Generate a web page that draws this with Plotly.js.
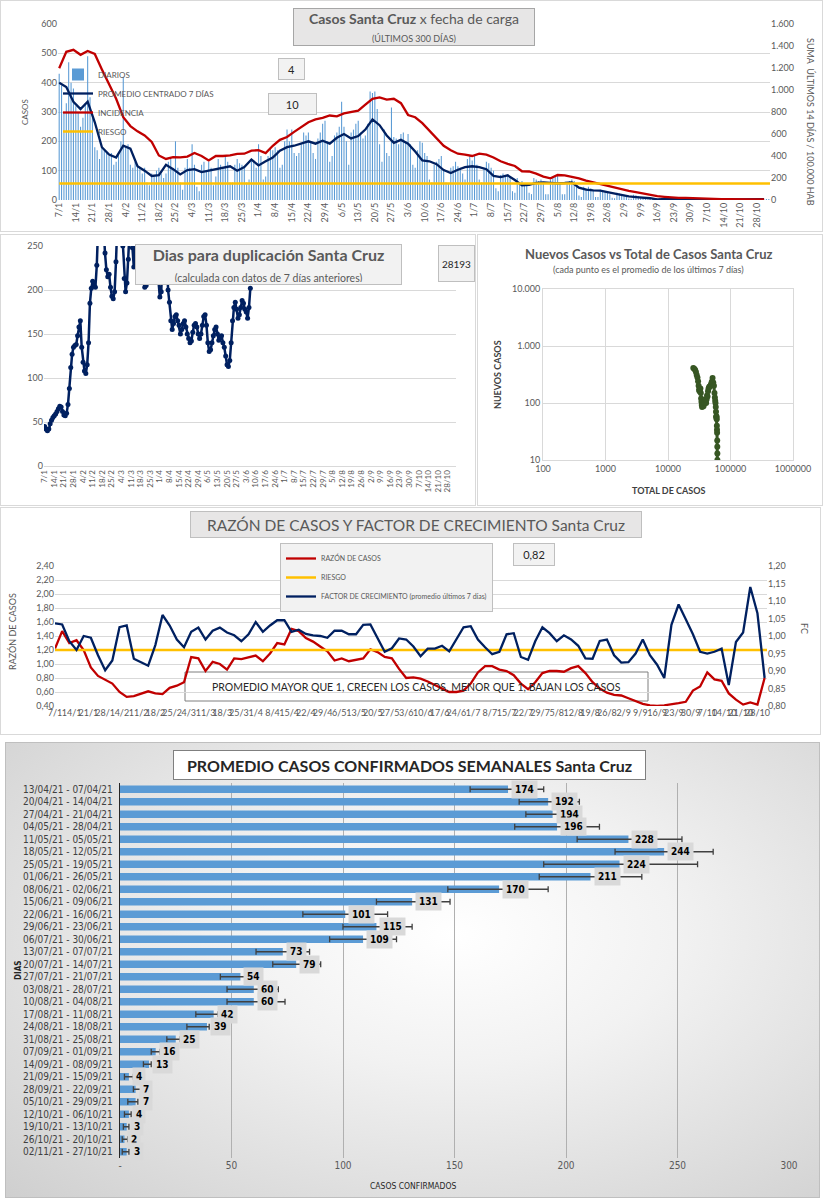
<!DOCTYPE html>
<html><head><meta charset="utf-8">
<script src="https://cdn.plot.ly/plotly-3.0.1.min.js"></script>
<style>
body{margin:0;width:823px;height:1200px;background:#fff;position:relative;overflow:hidden;font-family:Lato,sans-serif}
.frame{position:absolute;box-sizing:border-box;border:1px solid #d9d9d9}
.plot{position:absolute}
</style></head>
<body>
<div class="frame" style="left:0;top:0;width:823px;height:232px"></div>
<div class="frame" style="left:0;top:234px;width:476px;height:272px"></div>
<div class="frame" style="left:477px;top:234px;width:346px;height:272px"></div>
<div class="frame" style="left:0;top:507px;width:821px;height:228px"></div>
<div class="frame" style="left:5px;top:742px;width:815px;height:456px;border-color:#bfbfbf;background:radial-gradient(ellipse at 55% 42%,#ffffff 0%,#f2f2f2 35%,#cfcfcf 100%)"></div>
<div id="p1" class="plot" style="left:0;top:0"></div>
<div id="p2" class="plot" style="left:0;top:234px"></div>
<div id="p3" class="plot" style="left:477px;top:234px"></div>
<div id="p4" class="plot" style="left:0;top:507px"></div>
<div id="p5" class="plot" style="left:5px;top:742px"></div>
<script>
// ---------------- DATA ----------------
// Panel 1: daily cases from 7/1/2021 (300 days)
const diarios = [
430,390,300,330,470,400,380, 320,300,250,280,330,490,350, 300,180,170,140,180,170,160,
150,160,120,130,160,200,420, 180,190,120,110,130,120,110, 90,110,60,50,90,80,100,
110,90,75,90,130,140,110, 200,110,60,35,110,140,110, 190,120,45,30,120,130,100,
130,110,50,80,140,120,110, 150,130,60,60,120,140,125, 120,110,60,70,140,130,110,
190,150,70,80,150,180,170, 180,170,110,120,200,240,200, 240,160,150,160,190,230,220,
230,200,160,140,210,230,260, 270,200,130,150,220,230,250, 335,250,200,120,230,240,260,
270,230,210,220,260,370,365, 370,310,190,130,240,160,150, 315,215,210,190,225,230,200,
225,190,120,110,170,200,195, 160,150,70,60,120,130,140, 150,100,60,55,110,115,130,
115,110,90,70,140,150,135, 150,120,70,60,110,130,125, 110,100,40,30,85,90,85,
85,80,30,25,75,60,65, 55,50,25,20,75,70,65, 70,60,20,20,70,75,85,
85,60,20,20,60,65,70, 65,50,15,10,45,40,45, 40,35,10,10,35,30,30,
25,20,8,6,25,22,20, 18,15,5,4,18,16,14, 10,8,3,2,6,5,4,
4,5,2,1,5,7,8, 8,7,3,2,8,7,6, 6,5,2,1,5,4,4,
4,3,1,1,3,3,3, 3,2,1,1,2,2,3, 3,2,1,1,3,2,3, 3,3,2,1,3,3];
// 7-day centred average, every 3 days from 7/1
const promedio = [400,385,335,310,335,265,180,155,145,185,175,115,100,82,85,120,105,87,102,105,
95,100,105,112,115,100,112,138,118,132,145,168,180,185,193,200,192,202,192,212,
225,210,218,240,275,255,220,195,205,192,165,135,132,122,102,92,103,112,115,112,
105,82,78,84,68,50,52,58,60,58,57,58,60,42,35,33,32,27,22,17,
12,10,9,6,2,4,5,4,4,3,2,1,2,3,3,2,2,3,3,3];
// 14-day incidence per 100.000 (right axis), every 3 days
const incidencia = [1197,1347,1365,1320,1355,1328,1187,1053,920,752,672,624,587,528,405,373,389,387,395,427,
400,360,400,400,405,419,421,448,453,427,493,547,573,619,661,707,733,747,768,760,
787,800,813,867,920,933,912,920,880,773,752,699,627,565,493,453,421,413,400,421,
413,387,352,328,309,261,259,240,213,197,227,224,213,197,176,160,149,133,112,96,
83,72,59,45,35,29,21,19,19,16,13,13,11,8,8,5,5,5,5,5];
const riesgoIncidencia = 150;
// Panel 2: doubling days, daily from 7/1
const duplicacion = [45,42,40,42,48,52,55,57,59,62, 65,68,67,62,58,57,60,70,88,112,
127,135,137,138,148,158,165,135,118,108, 105,115,140,185,202,210,205,203,228,270,
320,300,280,270,242,223,215,218,203,193, 190,198,232,290,320,310,280,250,213,198,
208,235,260,300,248,226,270,290,300,280, 260,230,210,203,205,220,240,260,280,300,
270,240,225,210,192,198,230,270,260,240, 200,186,165,155,162,170,172,165,160,150,
155,162,165,158,150,145,140,142,152,160, 162,158,150,145,150,160,170,172,160,140,
130,132,140,148,155,158,150,143,146,148, 140,135,125,115,113,120,140,165,180,186,
178,168,172,180,188,185,178,175,168,180, 202];
// Panel 3: total vs new cases (7-day avg)
const totalCasos = [25400,26300,27200,28000,28800,29600,30300,30900,31400,31900,32500,33000,33500,33900,34300,34700,35100,35500,36000,36500,
37000,37600,38200,38800,39400,40000,40700,41400,42100,42900,43700,44600,45500,46600,47700,48900,50200,51600,53000,54300,
55400,56200,56900,57500,58100,58600,59000,59400,59800,60200,60500,60800,61000,61300,61500,61600,61700,61750];
const nuevosCasos = [410,400,380,350,310,280,240,200,170,160,175,180,150,120,105,92,85,95,110,100,
88,100,105,100,110,115,100,115,135,130,160,180,190,195,200,215,235,275,230,200,
150,125,110,100,85,70,58,55,58,52,40,34,30,22,17,13,10,8];
// Panel 4: ratio and growth factor, every 3 days from 7/1
const razon = [1.22,1.47,1.30,1.34,1.20,0.95,0.83,0.77,0.72,0.60,
0.53,0.54,0.57,0.61,0.58,0.57,0.66,0.69,0.74,1.10,
1.08,0.90,1.03,1.00,0.92,1.08,1.07,1.09,1.12,1.04,
1.15,1.30,1.28,1.50,1.47,1.37,1.32,1.25,1.18,1.05,
1.08,1.04,1.06,1.08,1.21,1.17,1.10,1.08,0.93,0.80,
0.81,0.79,0.75,0.70,0.64,0.60,0.60,0.62,0.72,0.88,
0.97,0.97,0.92,0.90,0.84,0.72,0.64,0.74,0.87,0.90,
0.90,0.89,0.94,0.97,0.87,0.74,0.65,0.59,0.56,0.55,
0.51,0.47,0.43,0.41,0.40,0.41,0.42,0.44,0.46,0.62,
0.68,0.88,0.78,0.76,0.58,0.49,0.42,0.45,0.42,0.80];
const factor = [1.036,1.033,0.985,0.960,1.000,0.995,0.945,0.902,0.930,1.025,
1.030,0.935,0.925,0.915,0.974,1.060,1.030,0.990,0.968,1.012,
1.024,0.990,1.015,1.024,1.010,1.002,0.985,1.005,1.040,1.012,
1.030,1.045,1.045,1.012,1.018,1.006,1.002,1.000,0.995,1.015,
1.015,1.005,1.005,1.032,1.033,0.993,0.955,0.965,0.993,0.990,
0.970,0.942,0.964,0.964,0.972,0.956,0.990,1.025,1.028,0.990,
0.968,0.948,0.955,1.005,1.008,0.940,0.932,0.985,1.025,1.008,
0.985,1.002,0.990,0.972,0.936,0.935,0.986,0.990,0.945,0.924,
0.925,0.950,0.990,0.945,0.918,0.880,1.032,1.090,1.048,1.005,
0.955,0.950,0.955,0.964,0.860,0.983,1.010,1.140,1.065,0.880];
const riesgoRazon = 1.2;
// Panel 5: weekly averages
const semanas = ['13/04/21 - 07/04/21','20/04/21 - 14/04/21','27/04/21 - 21/04/21','04/05/21 - 28/04/21','11/05/21 - 05/05/21',
'18/05/21 - 12/05/21','25/05/21 - 19/05/21','01/06/21 - 26/05/21','08/06/21 - 02/06/21','15/06/21 - 09/06/21',
'22/06/21 - 16/06/21','29/06/21 - 23/06/21','06/07/21 - 30/06/21','13/07/21 - 07/07/21','20/07/21 - 14/07/21',
'27/07/21 - 21/07/21','03/08/21 - 28/07/21','10/08/21 - 04/08/21','17/08/21 - 11/08/21','24/08/21 - 18/08/21',
'31/08/21 - 25/08/21','07/09/21 - 01/09/21','14/09/21 - 08/09/21','21/09/21 - 15/09/21','28/09/21 - 22/09/21',
'05/10/21 - 29/09/21','12/10/21 - 06/10/21','19/10/21 - 13/10/21','26/10/21 - 20/10/21','02/11/21 - 27/10/21'];
const promSemanal = [174,192,194,196,228,244,224,211,170,131,101,115,109,73,79,54,60,60,42,39,25,16,13,4,7,7,4,3,2,3];
const errMas = [16,14,12,19,24,22,35,23,22,17,19,16,15,12,11,5,11,14,2,1,2,2,1,2,2.5,1,1,1,1.5,1];
const errMenos = [17,13,12,19,23,22,34,23,23,16,19,15,15,12,10.5,9,12,12,8,9,4,2,2.5,2,1,3.5,2,1.5,1,2];
const xTicks5 = [0,50,100,150,200,250,300];
const xTickText5 = ['-','50','100','150','200','250','300'];

// ---------------- HELPERS ----------------
const START = Date.UTC(2021,0,7);
function dayStr(i){ return new Date(START + i*86400000).toISOString().slice(0,10); }
function dates(n, step){ const a=[]; for(let i=0;i<n;i++) a.push(dayStr(i*step)); return a; }
function geo(W,H,m){ const w=W-m.l-m.r, h=H-m.t-m.b; return {x:p=>(p-m.l)/w, y:p=>1-(p-m.t)/h}; }
function box(g,cx,cy,bw,bh,text,o){ o=o||{}; const pad=o.pad==null?2:o.pad;
  return {xref:'paper',yref:'paper',x:g.x(cx),y:g.y(cy),xanchor:'center',yanchor:'middle',text:text,showarrow:false,
    width:bw-2*pad-2,height:bh-2*pad-2,borderpad:pad,bgcolor:o.bg||'#f2f2f2',bordercolor:o.bc||'#bfbfbf',borderwidth:1,
    valign:'middle',align:'center',font:{size:o.size||11,color:o.color||'#262626',family:o.family||'Lato, sans-serif'}}; }
function lab(g,cx,cy,text,o){ o=o||{};
  return {xref:'paper',yref:'paper',x:g.x(cx),y:g.y(cy),xanchor:'center',yanchor:'middle',text:text,showarrow:false,
    textangle:o.angle||0,font:{size:o.size||9,color:o.color||'#595959',family:o.family||'Lato, sans-serif'}}; }
const cfg = {displayModeBar:false, staticPlot:true};
const GRAY='#595959', GRID='#d9d9d9', NAVY='#002060', RED='#c00000', YEL='#ffc000';
const WEEK = 7*86400000;

// ---------------- PANEL 1 ----------------
(function(){
  const W=823,H=232,m={l:58,r:53,t:24,b:32}; const g=geo(W,H,m);
  const traces=[
    {type:'bar',x:dates(300,1),y:diarios,name:'DIARIOS',marker:{color:'#5b9bd5'}},
    {type:'scatter',mode:'lines',x:dates(100,3),y:promedio,name:'PROMEDIO CENTRADO 7 DÍAS',line:{color:NAVY,width:2.3}},
    {type:'scatter',mode:'lines',x:dates(100,3),y:incidencia,yaxis:'y2',name:'INCIDENCIA',line:{color:RED,width:2.3}},
    {type:'scatter',mode:'lines',x:[dayStr(0),dayStr(301)],y:[riesgoIncidencia,riesgoIncidencia],yaxis:'y2',name:'RIESGO',line:{color:YEL,width:2.5}}
  ];
  const layout={width:W,height:H,margin:m,separators:',.',paper_bgcolor:'rgba(0,0,0,0)',plot_bgcolor:'rgba(0,0,0,0)',
    font:{family:'Lato, sans-serif',color:GRAY},bargap:0.55,
    xaxis:{type:'date',range:['2021-01-06 12:00','2021-11-02 12:00'],tick0:'2021-01-07',dtick:WEEK,tickformat:'%-d/%-m',tickangle:-90,
      tickfont:{size:9,color:GRAY},showgrid:false,zeroline:false,automargin:false,ticks:''},
    yaxis:{range:[0,600],dtick:100,gridcolor:GRID,zeroline:false,tickfont:{size:9,color:GRAY},automargin:false},
    yaxis2:{overlaying:'y',side:'right',range:[0,1600],dtick:200,tickformat:',d',showgrid:false,zeroline:false,tickfont:{size:9,color:GRAY},automargin:false},
    showlegend:true,
    legend:{x:0,y:g.y(60),xanchor:'left',yanchor:'top',bgcolor:'rgba(0,0,0,0)',font:{size:8,color:GRAY},tracegroupgap:0},
    annotations:[
      box(g,414,27,242,38,'<b>Casos Santa Cruz</b> x fecha de carga<br><span style="font-size:9px">(ÚLTIMOS 300 DÍAS)</span>',{bg:'#e7e6e6',bc:'#a6a6a6',size:14,color:GRAY}),
      box(g,291,69,27,22,'4',{size:11}),
      box(g,292,104,49,22,'10',{size:11}),
      lab(g,25,112,'CASOS',{angle:-90,size:8}),
      lab(g,810,122,'SUMA  ÚLTIMOS 14 DÍAS / 100.000 HAB',{angle:90,size:9})
    ]};
  Plotly.newPlot('p1',traces,layout,cfg);
})();

// ---------------- PANEL 2 ----------------
(function(){
  const W=476,H=272,m={l:44,r:20,t:12,b:40}; const g=geo(W,H,m);
  const traces=[{type:'scatter',mode:'lines+markers',x:dates(duplicacion.length,1),y:duplicacion,
    line:{color:NAVY,width:2.5},marker:{color:NAVY,size:5},cliponaxis:true}];
  const layout={width:W,height:H,margin:m,paper_bgcolor:'rgba(0,0,0,0)',plot_bgcolor:'rgba(0,0,0,0)',showlegend:false,
    font:{family:'Lato, sans-serif',color:GRAY},
    xaxis:{type:'date',range:['2021-01-06 12:00','2021-11-03 00:00'],tick0:'2021-01-07',dtick:WEEK,tickformat:'%-d/%-m',tickangle:-90,
      tickfont:{size:8,color:GRAY},showgrid:false,zeroline:false,automargin:false,showline:true,linecolor:GRID},
    yaxis:{range:[0,250],dtick:50,gridcolor:GRID,zeroline:false,tickfont:{size:9,color:GRAY},automargin:false},
    annotations:[
      box(g,268.5,30.5,267,41,'<b>Dias para duplicación Santa Cruz</b><br><span style="font-size:10.5px">(calculada con datos de 7 días anteriores)</span>',{size:16,color:GRAY,bg:'#f2f2f2',bc:'#bfbfbf'}),
      box(g,456.5,29.5,37,37,'28193',{size:10})
    ]};
  Plotly.newPlot('p2',traces,layout,cfg);
})();

// ---------------- PANEL 3 ----------------
(function(){
  const W=346,H=272,m={l:66,r:30,t:55,b:46}; const g=geo(W,H,m);
  const traces=[{type:'scatter',mode:'lines+markers',x:totalCasos,y:nuevosCasos,
    line:{color:'#375623',width:3},marker:{color:'#375623',size:6}}];
  const layout={width:W,height:H,margin:m,paper_bgcolor:'rgba(0,0,0,0)',plot_bgcolor:'rgba(0,0,0,0)',showlegend:false,
    font:{family:'Lato, sans-serif',color:GRAY},
    xaxis:{type:'log',range:[2,6],tickvals:[100,1000,10000,100000,1000000],ticktext:['100','1000','10000','100000','1000000'],
      gridcolor:GRID,showline:true,mirror:true,linecolor:GRID,zeroline:false,tickfont:{size:9,color:GRAY},automargin:false},
    yaxis:{type:'log',range:[1,4],tickvals:[10,100,1000,10000],ticktext:['10','100','1.000','10.000'],
      gridcolor:GRID,showline:true,mirror:true,linecolor:GRID,zeroline:false,tickfont:{size:9,color:GRAY},automargin:false},
    annotations:[
      lab(g,171,20,'<b>Nuevos Casos vs Total de Casos Santa Cruz</b>',{size:13}),
      lab(g,171,35,'(cada punto es el promedio de los últimos 7 días)',{size:9}),
      lab(g,20,141,'<b>NUEVOS CASOS</b>',{angle:-90,size:9,color:'#404040'}),
      lab(g,191,256,'<b>TOTAL DE CASOS</b>',{size:9,color:'#404040'})
    ]};
  Plotly.newPlot('p3',traces,layout,cfg);
})();

// ---------------- PANEL 4 ----------------
(function(){
  const W=821,H=228,m={l:55,r:54,t:59,b:29}; const g=geo(W,H,m);
  const traces=[
    {type:'scatter',mode:'lines',x:dates(100,3),y:razon,name:'RAZÓN DE CASOS',line:{color:RED,width:2.3}},
    {type:'scatter',mode:'lines',x:[dayStr(0),dayStr(300)],y:[riesgoRazon,riesgoRazon],name:'RIESGO',line:{color:YEL,width:2.5}},
    {type:'scatter',mode:'lines',x:dates(100,3),y:factor,yaxis:'y2',name:'FACTOR DE CRECIMIENTO (promedio últimos 7 días)',line:{color:NAVY,width:2.3}}
  ];
  const layout={width:W,height:H,margin:m,separators:',.',paper_bgcolor:'rgba(0,0,0,0)',plot_bgcolor:'rgba(0,0,0,0)',
    font:{family:'Lato, sans-serif',color:GRAY},
    xaxis:{type:'date',range:['2021-01-07','2021-11-01'],tick0:'2021-01-07',dtick:WEEK,tickformat:'%-d/%-m',tickangle:0,
      tickfont:{size:9,color:GRAY},showgrid:false,zeroline:false,automargin:false},
    yaxis:{range:[0.4,2.4],tick0:0.4,dtick:0.2,tickformat:'.2f',gridcolor:GRID,zeroline:false,tickfont:{size:9,color:GRAY},automargin:false},
    yaxis2:{overlaying:'y',side:'right',range:[0.8,1.2],tick0:0.8,dtick:0.05,tickformat:'.2f',showgrid:false,zeroline:false,tickfont:{size:9,color:GRAY},automargin:false},
    showlegend:true,
    legend:{x:g.x(280),y:g.y(543-507),xanchor:'left',yanchor:'top',bgcolor:'#f2f2f2',bordercolor:'#bfbfbf',borderwidth:1,font:{size:7,color:GRAY},tracegroupgap:0},
    shapes:[{type:'rect',xref:'paper',yref:'paper',x0:g.x(185),x1:g.x(648),y0:g.y(165),y1:g.y(194),fillcolor:'#ffffff',line:{color:'#7f7f7f',width:1},layer:'between'}],
    annotations:[
      box(g,416,17.5,452,27,'RAZÓN DE CASOS Y FACTOR DE CRECIMIENTO Santa Cruz',{bg:'#e7e6e6',bc:'#bfbfbf',size:15.5,color:GRAY}),
      box(g,534,47.5,42,23,'0,82',{size:11}),
      lab(g,416.5,179.5,'PROMEDIO MAYOR QUE 1, CRECEN LOS CASOS, MENOR QUE 1, BAJAN LOS CASOS',{size:10.5,color:'#262626'}),
      lab(g,12,125,'RAZÓN DE CASOS',{angle:-90,size:9}),
      lab(g,805,121,'FC',{angle:90,size:9})
    ]};
  Plotly.newPlot('p4',traces,layout,cfg);
})();

// ---------------- PANEL 5 ----------------
(function(){
  const W=815,H=456,m={l:115,r:31,t:41,b:40}; const g=geo(W,H,m);
  const NAR="'Liberation Sans Narrow','Arial Narrow','DejaVu Sans Condensed',sans-serif";
  const traces=[{type:'bar',orientation:'h',x:promSemanal,y:semanas,marker:{color:'#5b9bd5'},
    error_x:{type:'data',symmetric:false,array:errMas,arrayminus:errMenos,color:'#404040',thickness:1.3,width:3}}];
  const anns=promSemanal.map((v,i)=>({x:v,y:semanas[i],xref:'x',yref:'y',xanchor:'left',yanchor:'middle',xshift:3,
    text:'<b>'+v+'</b>',showarrow:false,bgcolor:'#d9d9d9',borderpad:3,font:{size:10,color:'#000',family:NAR}}));
  anns.push(box(g,404.5,23,473,30,'<b>PROMEDIO CASOS CONFIRMADOS SEMANALES Santa Cruz</b>',{bg:'#ffffff',bc:'#7f7f7f',size:16,color:'#262626',family:'Lato, sans-serif'}));
  anns.push(lab(g,13,229,'<b>DIAS</b>',{angle:-90,size:8,color:'#262626',family:NAR}));
  anns.push(lab(g,408,444,'CASOS CONFIRMADOS',{size:8.5,color:'#262626',family:NAR}));
  const layout={width:W,height:H,margin:m,paper_bgcolor:'rgba(0,0,0,0)',plot_bgcolor:'rgba(0,0,0,0)',showlegend:false,
    font:{family:NAR,color:GRAY},bargap:0.4,
    xaxis:{range:[0,300],tickvals:xTicks5,ticktext:xTickText5,gridcolor:'#b0b0b0',zeroline:false,tickfont:{size:10,color:GRAY,family:NAR},automargin:false},
    yaxis:{type:'category',categoryarray:semanas,range:[29.5,-0.5],showline:true,linecolor:'#262626',linewidth:1.2,showgrid:false,
      ticks:'',tickfont:{size:10,color:'#404040',family:NAR},automargin:false,ticklabelstandoff:4},
    annotations:anns};
  Plotly.newPlot('p5',traces,layout,cfg);
})();
</script>
</body></html>
